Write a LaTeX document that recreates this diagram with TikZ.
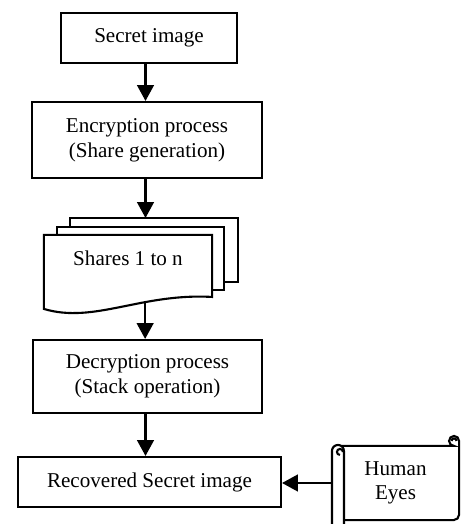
\documentclass[tikz,border=0pt]{standalone}
\usepackage{fontspec}
\setmainfont{Liberation Serif}
\usetikzlibrary{arrows.meta,calc}

\tikzset{
	box/.style={draw, inner sep=2pt, align=center},
	flow/.style={-{Triangle[length=9pt,width=9.5pt]}},
}

\begin{document}
\begin{tikzpicture}[font=\fontsize{12}{14}\selectfont, line width=1.2pt]

	\useasboundingbox (0,0) rectangle (9.22,10.5);
	\coordinate (spine) at (2.91,0);

	\node[box, minimum width=3.52cm, minimum height=1cm] (secret) at (2.98,9.74) {Secret image};
	\node[box, minimum width=4.6cm, minimum height=1.52cm] (enc) at (2.94,7.70) {Encryption process\\(Share generation)};
	\node[minimum width=3.32cm, minimum height=0.88cm, inner sep=0pt] (shares) at (2.56,5.34) {Shares 1 to n};
	\node[box, minimum width=4.58cm, minimum height=1.46cm] (dec) at (2.95,2.97) {Decryption process\\(Stack operation)};
	\node[box, minimum width=5.26cm, minimum height=1cm] (rec) at (2.99,0.86) {Recovered Secret image};
	\node[align=center, minimum width=2.5cm, minimum height=1.44cm, inner sep=0pt] (eyes) at (7.91,0.84) {Human\\Eyes};

	% stacked sheets behind the front one
	\draw ($(shares.north west)+(0.52,0.16)$) -- ($(shares.north west)+(0.52,0.34)$) -- ($(shares.north east)+(0.52,0.34)$) -- ($(shares.north east)+(0.52,-0.94)$) -- ($(shares.north east)+(0.24,-0.94)$);
	\draw ($(shares.north west)+(0.26,0)$) -- ($(shares.north west)+(0.26,0.16)$) -- ($(shares.north east)+(0.24,0.16)$) -- ($(shares.north east)+(0.24,-1.10)$) -- ($(shares.north east)+(0,-1.10)$);
	\draw (shares.north west) -- (shares.north east) -- ($(shares.north east)+(0,-1.24)$)
		.. controls ($(shares.north east)+(-1.42,-1.16)$) and ($(shares.north west)+(1.0,-1.78)$) .. coordinate[pos=0.35] (wave) ($(shares.north west)+(0,-1.48)$) -- cycle;
	\coordinate (backtop) at ($(shares.north)+(0,0.34)$);

	% scroll round the eyes
	\draw ($(eyes.north west)+(0,-1.56)$) -- ($(eyes.north west)+(0,-0.1)$) arc[start angle=180, end angle=0, radius=0.12cm] -- ($(eyes.north west)+(0.24,-1.56)$);
	\draw ($(eyes.north west)+(0.22,-0.12)$) arc[start angle=0, end angle=270, radius=0.06cm];
	\draw ($(eyes.north west)+(0.19,0)$) -- ($(eyes.north east)+(-0.1,0)$) arc[start angle=-90, end angle=-360, radius=0.1cm] [rounded corners=3pt] -- (eyes.south east) -- ($(eyes.south west)+(0.24,0)$);
	\draw ($(eyes.north east)+(-0.05,0.1)$) arc[start angle=0, end angle=180, radius=0.05cm];

	\draw[flow] (secret.south -| spine) -- (enc.north -| spine);
	\draw[flow] (enc.south -| spine) -- (backtop -| spine);
	\draw[flow] (wave) -- (wave |- dec.north);
	\draw[flow] (dec.south -| spine) -- (rec.north -| spine);
	\draw[flow] (eyes.west) -- (rec.east |- eyes.west);

\end{tikzpicture}
\end{document}
